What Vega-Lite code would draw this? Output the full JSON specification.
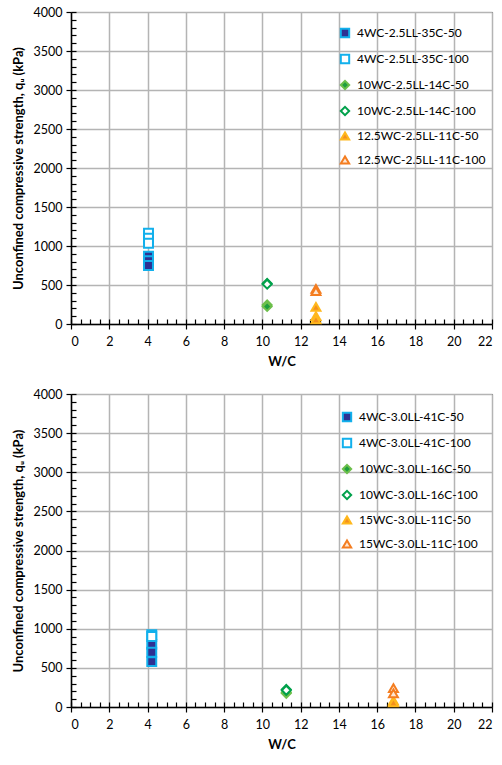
{
  "$schema": "https://vega.github.io/schema/vega-lite/v6.json",
  "padding": {"left": 11, "top": 5, "right": 2, "bottom": 5},
  "background": "white",
  "config": {
    "font": "Lato",
    "view": {"stroke": "black", "strokeWidth": 1},
    "axis": {
      "labelFont": "Lato", "labelFontSize": 12.5, "labelColor": "#000",
      "titleFont": "Lato", "titleFontSize": 13, "titleFontWeight": "bold", "titleColor": "#000",
      "domainColor": "#000", "domainWidth": 1.5, "tickColor": "#000", "tickWidth": 1.2,
      "gridColor": "#b4b4b4", "gridWidth": 1.5
    },
    "legend": {"labelFont": "Lato", "labelFontSize": 12, "labelColor": "#000"}
  },
  "datasets": {
    "d": [
      {"panel": "A", "series": "4WC-2.5LL-35C-50", "wc": 4.05, "qu": 870},
      {"panel": "A", "series": "4WC-2.5LL-35C-50", "wc": 4.05, "qu": 810},
      {"panel": "A", "series": "4WC-2.5LL-35C-50", "wc": 4.05, "qu": 750},
      {"panel": "A", "series": "4WC-2.5LL-35C-100", "wc": 4.05, "qu": 1165},
      {"panel": "A", "series": "4WC-2.5LL-35C-100", "wc": 4.05, "qu": 1100},
      {"panel": "A", "series": "4WC-2.5LL-35C-100", "wc": 4.05, "qu": 1035},
      {"panel": "A", "series": "10WC-2.5LL-14C-50", "wc": 10.25, "qu": 245},
      {"panel": "A", "series": "10WC-2.5LL-14C-50", "wc": 10.25, "qu": 225},
      {"panel": "A", "series": "10WC-2.5LL-14C-100", "wc": 10.25, "qu": 520},
      {"panel": "A", "series": "10WC-2.5LL-14C-100", "wc": 10.25, "qu": 510},
      {"panel": "A", "series": "12.5WC-2.5LL-11C-50", "wc": 12.8, "qu": 220},
      {"panel": "A", "series": "12.5WC-2.5LL-11C-50", "wc": 12.8, "qu": 100},
      {"panel": "A", "series": "12.5WC-2.5LL-11C-50", "wc": 12.8, "qu": 60},
      {"panel": "A", "series": "12.5WC-2.5LL-11C-100", "wc": 12.8, "qu": 450},
      {"panel": "A", "series": "12.5WC-2.5LL-11C-100", "wc": 12.8, "qu": 420},
      {"panel": "B", "series": "4WC-3.0LL-41C-50", "wc": 4.22, "qu": 800},
      {"panel": "B", "series": "4WC-3.0LL-41C-50", "wc": 4.22, "qu": 700},
      {"panel": "B", "series": "4WC-3.0LL-41C-50", "wc": 4.22, "qu": 580},
      {"panel": "B", "series": "4WC-3.0LL-41C-100", "wc": 4.22, "qu": 925},
      {"panel": "B", "series": "4WC-3.0LL-41C-100", "wc": 4.22, "qu": 900},
      {"panel": "B", "series": "10WC-3.0LL-16C-50", "wc": 11.25, "qu": 190},
      {"panel": "B", "series": "10WC-3.0LL-16C-50", "wc": 11.25, "qu": 175},
      {"panel": "B", "series": "10WC-3.0LL-16C-100", "wc": 11.25, "qu": 225},
      {"panel": "B", "series": "10WC-3.0LL-16C-100", "wc": 11.25, "qu": 215},
      {"panel": "B", "series": "15WC-3.0LL-11C-50", "wc": 16.85, "qu": 80},
      {"panel": "B", "series": "15WC-3.0LL-11C-50", "wc": 16.85, "qu": 60},
      {"panel": "B", "series": "15WC-3.0LL-11C-100", "wc": 16.85, "qu": 240},
      {"panel": "B", "series": "15WC-3.0LL-11C-100", "wc": 16.85, "qu": 175}
    ]
  },
  "spacing": 18,
  "resolve": {"scale": {"fill": "independent", "stroke": "independent", "shape": "independent"}, "legend": {"fill": "independent", "stroke": "independent", "shape": "independent"}},
  "vconcat": [
    {
      "width": 421, "height": 312,
      "data": {"name": "d"},
      "transform": [{"filter": "datum.panel == 'A'"}],
      "layer": [
        {
          "mark": {"type": "point", "size": 80, "strokeWidth": 2, "opacity": 1},
          "encoding": {
            "x": {"field": "wc", "type": "quantitative", "scale": {"domain": [0, 22], "nice": false},
              "axis": {"values": [0,2,4,6,8,10,12,14,16,18,20,22], "title": "W/C", "grid": true, "tickSize": 5, "labelPadding": 6, "titlePadding": 8}},
            "y": {"field": "qu", "type": "quantitative", "scale": {"domain": [0, 4000], "nice": false},
              "axis": {"values": [0,500,1000,1500,2000,2500,3000,3500,4000], "format": "d", "title": "Unconfined compressive strength, qᵤ (kPa)", "grid": true, "tickSize": 5, "labelPadding": 4, "titlePadding": 8}},
            "shape": {"field": "series", "type": "nominal",
              "scale": {"domain": ["4WC-2.5LL-35C-50","4WC-2.5LL-35C-100","10WC-2.5LL-14C-50","10WC-2.5LL-14C-100","12.5WC-2.5LL-11C-50","12.5WC-2.5LL-11C-100"],
                "range": ["square","square","diamond","diamond","triangle-up","triangle-up"]},
              "legend": {"title": null, "orient": "none", "legendX": 268, "legendY": 15, "rowPadding": 8, "symbolSize": 70, "symbolStrokeWidth": 2, "labelOffset": 6, "padding": 0}},
            "fill": {"field": "series", "type": "nominal",
              "scale": {"domain": ["4WC-2.5LL-35C-50","4WC-2.5LL-35C-100","10WC-2.5LL-14C-50","10WC-2.5LL-14C-100","12.5WC-2.5LL-11C-50","12.5WC-2.5LL-11C-100"],
                "range": ["#2e3192","#ffffff","#1e9e3e","#ffffff","#f4901e","#fde6d2"]},
              "legend": {"title": null, "orient": "none", "legendX": 268, "legendY": 15, "rowPadding": 8, "symbolSize": 70, "symbolStrokeWidth": 2, "labelOffset": 6, "padding": 0}},
            "stroke": {"field": "series", "type": "nominal",
              "scale": {"domain": ["4WC-2.5LL-35C-50","4WC-2.5LL-35C-100","10WC-2.5LL-14C-50","10WC-2.5LL-14C-100","12.5WC-2.5LL-11C-50","12.5WC-2.5LL-11C-100"],
                "range": ["#12b0ec","#12b0ec","#6dbf4b","#00a14b","#ffb81c","#f47d20"]},
              "legend": {"title": null, "orient": "none", "legendX": 268, "legendY": 15, "rowPadding": 8, "symbolSize": 70, "symbolStrokeWidth": 2, "labelOffset": 6, "padding": 0}}
          }
        },
        {
          "mark": {"type": "point", "opacity": 0},
          "encoding": {
            "x": {"field": "wc", "type": "quantitative",
              "axis": {"orient": "bottom", "offset": -5, "values": [0,0.5,1,1.5,2,2.5,3,3.5,4,4.5,5,5.5,6,6.5,7,7.5,8,8.5,9,9.5,10,10.5,11,11.5,12,12.5,13,13.5,14,14.5,15,15.5,16,16.5,17,17.5,18,18.5,19,19.5,20,20.5,21,21.5,22], "labels": false, "grid": false, "domain": false, "title": null, "tickSize": 5}},
            "y": {"field": "qu", "type": "quantitative",
              "axis": {"orient": "left", "offset": -5, "values": [0,100,200,300,400,500,600,700,800,900,1000,1100,1200,1300,1400,1500,1600,1700,1800,1900,2000,2100,2200,2300,2400,2500,2600,2700,2800,2900,3000,3100,3200,3300,3400,3500,3600,3700,3800,3900,4000], "labels": false, "grid": false, "domain": false, "title": null, "tickSize": 5}}
          }
        }
      ],
      "resolve": {"axis": {"x": "independent", "y": "independent"}}
    },
    {
      "width": 421, "height": 313,
      "data": {"name": "d"},
      "transform": [{"filter": "datum.panel == 'B'"}],
      "layer": [
        {
          "mark": {"type": "point", "size": 80, "strokeWidth": 2, "opacity": 1},
          "encoding": {
            "x": {"field": "wc", "type": "quantitative", "scale": {"domain": [0, 22], "nice": false},
              "axis": {"values": [0,2,4,6,8,10,12,14,16,18,20,22], "title": "W/C", "grid": true, "tickSize": 5, "labelPadding": 6, "titlePadding": 8}},
            "y": {"field": "qu", "type": "quantitative", "scale": {"domain": [0, 4000], "nice": false},
              "axis": {"values": [0,500,1000,1500,2000,2500,3000,3500,4000], "format": "d", "title": "Unconfined compressive strength, qᵤ (kPa)", "grid": true, "tickSize": 5, "labelPadding": 4, "titlePadding": 8}},
            "shape": {"field": "series", "type": "nominal",
              "scale": {"domain": ["4WC-3.0LL-41C-50","4WC-3.0LL-41C-100","10WC-3.0LL-16C-50","10WC-3.0LL-16C-100","15WC-3.0LL-11C-50","15WC-3.0LL-11C-100"],
                "range": ["square","square","diamond","diamond","triangle-up","triangle-up"]},
              "legend": {"title": null, "orient": "none", "legendX": 270, "legendY": 17, "rowPadding": 8, "symbolSize": 70, "symbolStrokeWidth": 2, "labelOffset": 6, "padding": 0}},
            "fill": {"field": "series", "type": "nominal",
              "scale": {"domain": ["4WC-3.0LL-41C-50","4WC-3.0LL-41C-100","10WC-3.0LL-16C-50","10WC-3.0LL-16C-100","15WC-3.0LL-11C-50","15WC-3.0LL-11C-100"],
                "range": ["#2e3192","#ffffff","#1e9e3e","#ffffff","#f4901e","#fde6d2"]},
              "legend": {"title": null, "orient": "none", "legendX": 270, "legendY": 17, "rowPadding": 8, "symbolSize": 70, "symbolStrokeWidth": 2, "labelOffset": 6, "padding": 0}},
            "stroke": {"field": "series", "type": "nominal",
              "scale": {"domain": ["4WC-3.0LL-41C-50","4WC-3.0LL-41C-100","10WC-3.0LL-16C-50","10WC-3.0LL-16C-100","15WC-3.0LL-11C-50","15WC-3.0LL-11C-100"],
                "range": ["#12b0ec","#12b0ec","#6dbf4b","#00a14b","#ffb81c","#f47d20"]},
              "legend": {"title": null, "orient": "none", "legendX": 270, "legendY": 17, "rowPadding": 8, "symbolSize": 70, "symbolStrokeWidth": 2, "labelOffset": 6, "padding": 0}}
          }
        },
        {
          "mark": {"type": "point", "opacity": 0},
          "encoding": {
            "x": {"field": "wc", "type": "quantitative",
              "axis": {"orient": "bottom", "offset": -5, "values": [0,0.5,1,1.5,2,2.5,3,3.5,4,4.5,5,5.5,6,6.5,7,7.5,8,8.5,9,9.5,10,10.5,11,11.5,12,12.5,13,13.5,14,14.5,15,15.5,16,16.5,17,17.5,18,18.5,19,19.5,20,20.5,21,21.5,22], "labels": false, "grid": false, "domain": false, "title": null, "tickSize": 5}},
            "y": {"field": "qu", "type": "quantitative",
              "axis": {"orient": "left", "offset": -5, "values": [0,100,200,300,400,500,600,700,800,900,1000,1100,1200,1300,1400,1500,1600,1700,1800,1900,2000,2100,2200,2300,2400,2500,2600,2700,2800,2900,3000,3100,3200,3300,3400,3500,3600,3700,3800,3900,4000], "labels": false, "grid": false, "domain": false, "title": null, "tickSize": 5}}
          }
        }
      ],
      "resolve": {"axis": {"x": "independent", "y": "independent"}}
    }
  ]
}
